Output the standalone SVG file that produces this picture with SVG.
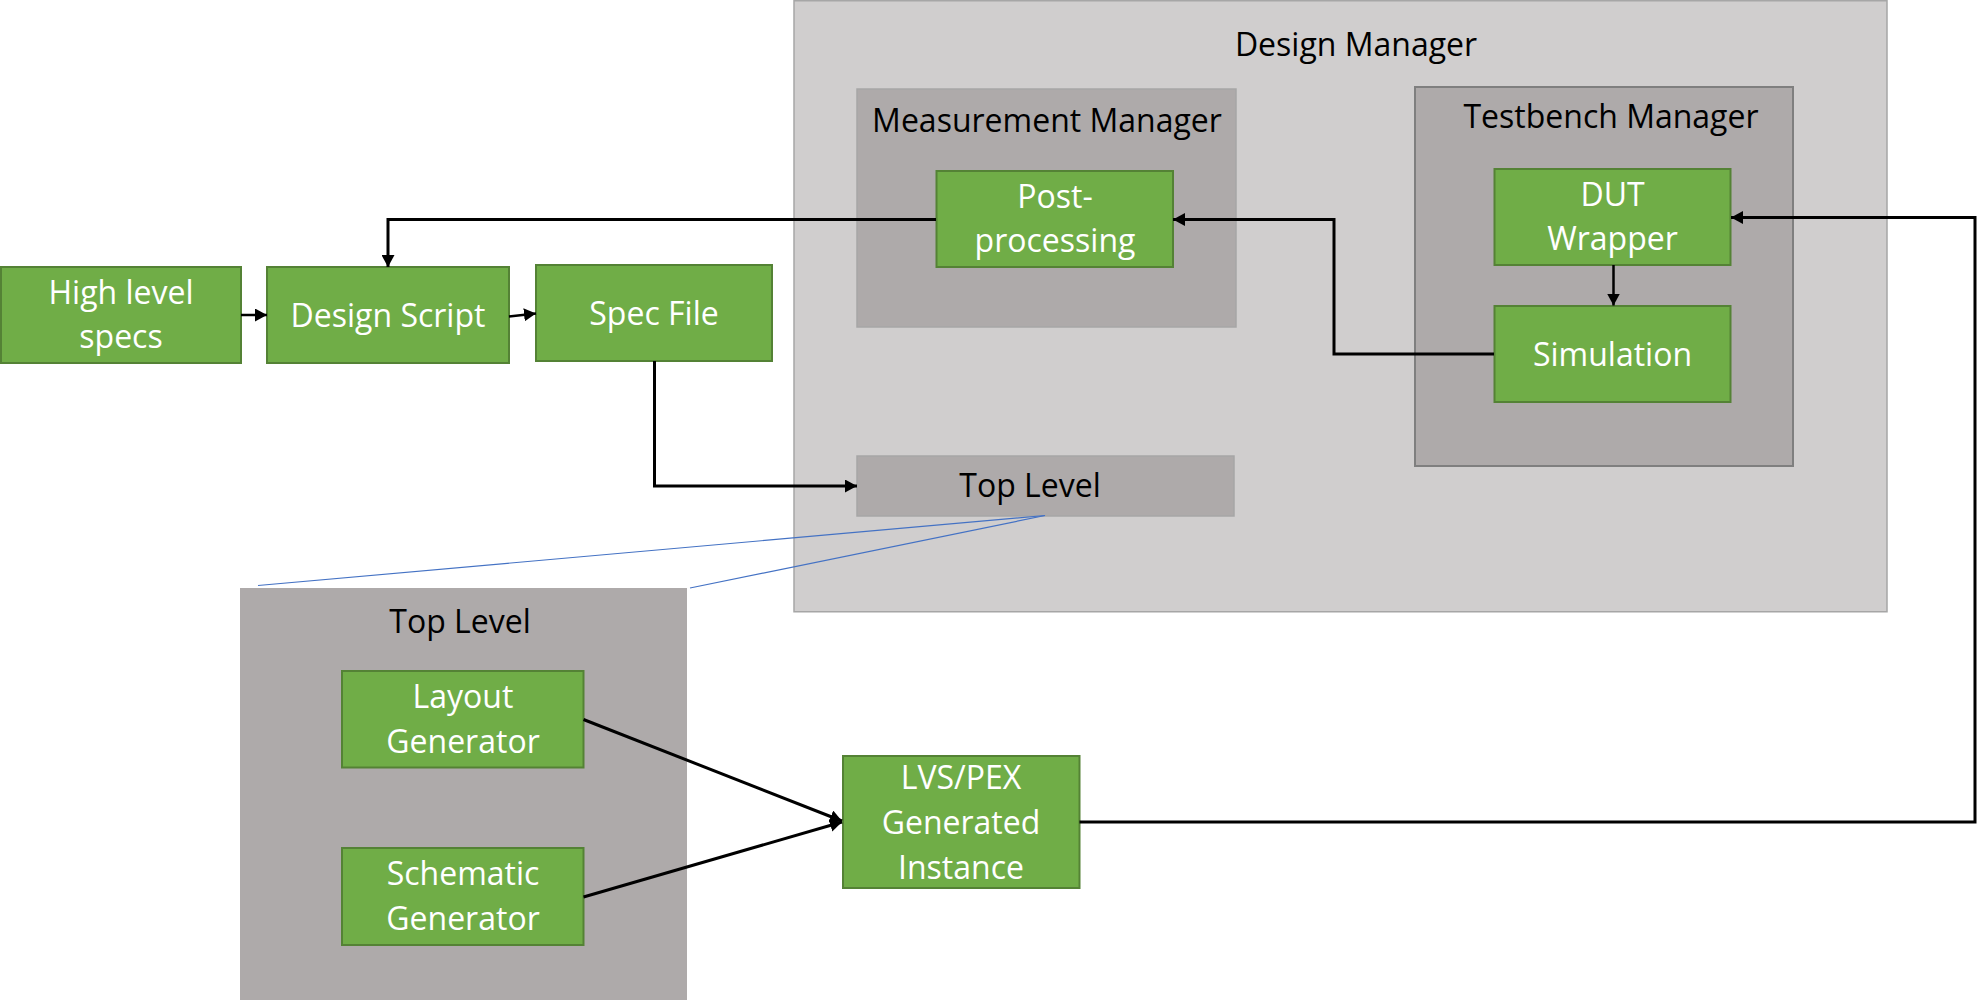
<svg xmlns="http://www.w3.org/2000/svg" width="1977" height="1003" viewBox="0 0 1977 1003">
<defs>
<marker id="ah" markerUnits="userSpaceOnUse" markerWidth="13" markerHeight="13" refX="12" refY="6.5" orient="auto">
<path d="M0,0 L12,6.5 L0,13 z" fill="#000"/>
</marker>
<style>
.g{fill:#70AD47;stroke:#548235;stroke-width:2}
.c1{fill:#D0CECE;stroke:#A6A6A6;stroke-width:1.5}
.c2{fill:#AEAAAA;stroke:#A6A6A6;stroke-width:1.5}
.c3{fill:#AEAAAA;stroke:#7F7F7F;stroke-width:2}
.c4{fill:#AEAAAA}
text{font-family:"Open Sans","Noto Sans","Liberation Sans",sans-serif;font-size:32px;text-anchor:middle}
.w{fill:#FFFFFF}
.k{fill:#000000}
.ln{fill:none;stroke:#000;stroke-width:3}
.ln2{fill:none;stroke:#000;stroke-width:2.5}
.bl{fill:none;stroke:#4472C4;stroke-width:1.2}
</style>
</defs>
<rect width="1977" height="1003" fill="#FFFFFF"/>
<g id="design-manager">
<rect class="c1" x="794" y="0.75" width="1093" height="611"/>
<text class="k" x="1356" y="56">Design Manager</text>
</g>
<g id="measurement-manager">
<rect class="c2" x="857" y="89" width="379" height="238"/>
<text class="k" x="1047" y="132">Measurement Manager</text>
</g>
<g id="testbench-manager">
<rect class="c3" x="1415" y="87" width="378" height="379"/>
<text class="k" x="1611" y="128">Testbench Manager</text>
</g>
<g id="top-level-small">
<rect class="c2" x="857" y="456" width="377" height="60"/>
<text class="k" x="1030" y="497">Top Level</text>
</g>
<g id="top-level-big">
<rect class="c4" x="240" y="588" width="447" height="412"/>
<text class="k" x="460" y="633">Top Level</text>
</g>
<g id="high-level-specs">
<rect class="g" x="1" y="267" width="240" height="96"/>
<text class="w" x="121" y="304">High level</text>
<text class="w" x="121" y="348">specs</text>
</g>
<g id="design-script">
<rect class="g" x="267" y="267" width="242" height="96"/>
<text class="w" x="388" y="327">Design Script</text>
</g>
<g id="spec-file">
<rect class="g" x="536" y="265" width="236" height="96"/>
<text class="w" x="654" y="324.5">Spec File</text>
</g>
<g id="post-processing">
<rect class="g" x="936.5" y="171" width="236.5" height="96"/>
<text class="w" x="1055" y="208">Post-</text>
<text class="w" x="1055" y="252">processing</text>
</g>
<g id="dut-wrapper">
<rect class="g" x="1494.5" y="169" width="236" height="96"/>
<text class="w" x="1612.5" y="206">DUT</text>
<text class="w" x="1612.5" y="250">Wrapper</text>
</g>
<g id="simulation">
<rect class="g" x="1494.5" y="306" width="236" height="96"/>
<text class="w" x="1612.5" y="366">Simulation</text>
</g>
<g id="layout-generator">
<rect class="g" x="342" y="671" width="241.5" height="96.5"/>
<text class="w" x="463" y="708">Layout</text>
<text class="w" x="463" y="753">Generator</text>
</g>
<g id="schematic-generator">
<rect class="g" x="342" y="848" width="241.5" height="97"/>
<text class="w" x="463" y="885">Schematic</text>
<text class="w" x="463" y="930">Generator</text>
</g>
<g id="lvs-pex">
<rect class="g" x="843" y="756" width="236.5" height="132"/>
<text class="w" x="961" y="789">LVS/PEX</text>
<text class="w" x="961" y="834">Generated</text>
<text class="w" x="961" y="879">Instance</text>
</g>
<g id="connectors">
<path class="ln2" d="M241,315 L267,315" marker-end="url(#ah)"/>
<path class="ln2" d="M509,316.5 L536,313.5" marker-end="url(#ah)"/>
<path class="ln" d="M936,219.5 L388,219.5 L388,267" marker-end="url(#ah)"/>
<path class="ln" d="M1494,354 L1334,354 L1334,219.5 L1173,219.5" marker-end="url(#ah)"/>
<path class="ln2" d="M1613.5,265 L1613.5,305.5" marker-end="url(#ah)"/>
<path class="ln" d="M654.5,361 L654.5,486 L857,486" marker-end="url(#ah)"/>
<path class="ln" d="M1079.5,822 L1975,822 L1975,217.5 L1731,217.5" marker-end="url(#ah)"/>
<path class="ln" d="M583.5,719.5 L842,821" marker-end="url(#ah)"/>
<path class="ln" d="M583.5,897 L842,822" marker-end="url(#ah)"/>
<path class="bl" d="M258,585.5 L1045,515.5"/>
<path class="bl" d="M690,588 L1045,515.5"/>
</g>
</svg>
